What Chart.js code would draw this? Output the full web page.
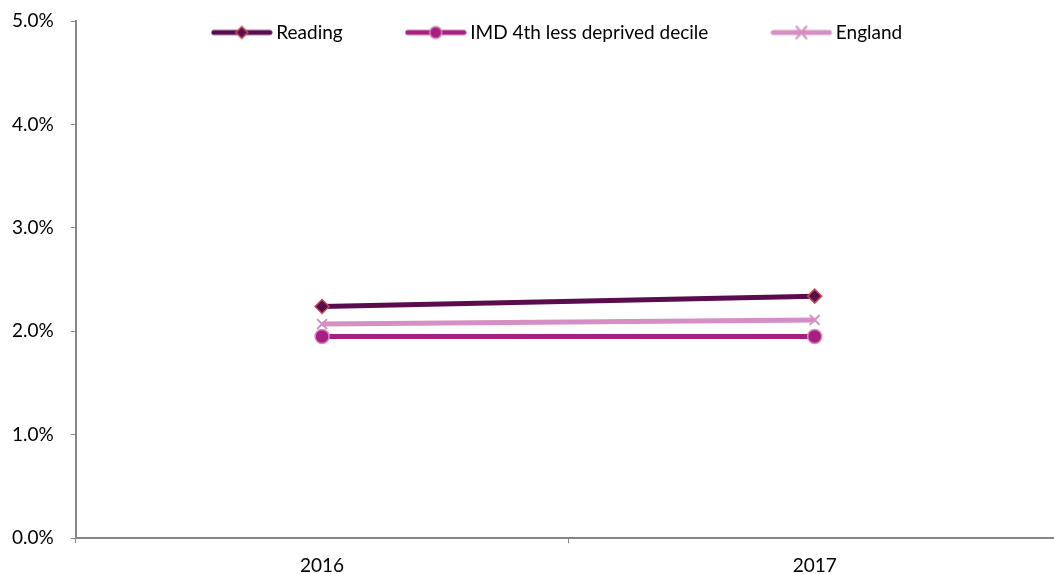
<!DOCTYPE html>
<html>
<head>
<meta charset="utf-8">
<script src="https://cdn.jsdelivr.net/npm/chart.js@4/dist/chart.umd.min.js"></script>
<style>
  html, body { margin: 0; padding: 0; background: #fff; overflow: hidden; }
  #wrap { position: relative; width: 1070px; height: 574px; }
</style>
</head>
<body>
<div id="wrap"><canvas id="chart"></canvas></div>
<script>
// ── DATA ──────────────────────────────────────────────────────────────────────
const years   = ['2016', '2017'];
const reading = [2.24, 2.34];
const imd     = [1.95, 1.95];
const england = [2.07, 2.11];
const yTicks  = [0, 1, 2, 3, 4, 5];

const FONT = "Lato, sans-serif";
const AXIS = '#868686';
const LEGEND_GAP = 68;

// ── LEGEND ICONS (line with marker in the middle) ─────────────────────────────
function legendIcon(color, draw) {
  const c = document.createElement('canvas');
  c.width = 62; c.height = 16;
  const g = c.getContext('2d');
  g.strokeStyle = color;
  g.lineWidth = 5;
  g.lineCap = 'round';
  g.beginPath(); g.moveTo(3, 8); g.lineTo(59, 8); g.stroke();
  draw(g, 31, 8);
  return c;
}

const icons = {
  reading: legendIcon('#5a0c4e', (g, x, y) => {
    g.fillStyle = '#5a0c4e'; g.strokeStyle = '#c0504d'; g.lineWidth = 1.5;
    g.beginPath(); g.moveTo(x, y - 6); g.lineTo(x + 6, y); g.lineTo(x, y + 6); g.lineTo(x - 6, y); g.closePath();
    g.fill(); g.stroke();
  }),
  imd: legendIcon('#a8207f', (g, x, y) => {
    g.fillStyle = '#a8207f'; g.strokeStyle = '#d58bc1'; g.lineWidth = 1.5;
    g.beginPath(); g.arc(x, y, 6, 0, Math.PI * 2); g.fill(); g.stroke();
  }),
  england: legendIcon('#d68fc2', (g, x, y) => {
    g.strokeStyle = '#d68fc2'; g.lineWidth = 2;
    g.beginPath(); g.moveTo(x - 5, y - 6); g.lineTo(x + 5, y + 6); g.moveTo(x + 5, y - 6); g.lineTo(x - 5, y + 6); g.stroke();
  })
};

// legend overlays the plot (takes no layout height), like the Excel original
const overlayLegend = {
  id: 'overlayLegend',
  afterInit(chart) {
    const lg = chart.legend;
    const fit = lg.fit;
    lg.fit = function () { fit.call(this); this._realHeight = this.height; this.height = 0; };
  },
  afterLayout(chart) {
    const lg = chart.legend;
    lg.top = 34 - LEGEND_GAP - 11;
    lg.bottom = lg.top + lg._realHeight;
    lg.height = lg._realHeight;
    lg.left += 27;
    lg.right += 27;
  }
};

// ── CHART ─────────────────────────────────────────────────────────────────────
const ctx = document.getElementById('chart').getContext('2d');
new Chart(ctx, {
  type: 'line',
  plugins: [overlayLegend],
  data: {
    labels: years,
    datasets: [
      {
        label: 'Reading',
        data: reading,
        borderColor: '#5a0c4e',
        borderWidth: 5,
        pointStyle: 'rectRot',
        pointRadius: 7,
        pointBackgroundColor: '#5a0c4e',
        pointBorderColor: '#c0504d',
        pointBorderWidth: 1.5,
        legendIcon: icons.reading
      },
      {
        label: 'IMD 4th less deprived decile',
        data: imd,
        borderColor: '#a8207f',
        borderWidth: 5,
        pointStyle: 'circle',
        pointRadius: 7,
        pointBackgroundColor: '#a8207f',
        pointBorderColor: '#d58bc1',
        pointBorderWidth: 1.5,
        legendIcon: icons.imd
      },
      {
        label: 'England',
        data: england,
        borderColor: '#d68fc2',
        borderWidth: 5,
        pointStyle: 'cross',
        rotation: 45,
        pointRadius: 7,
        pointBorderColor: '#d68fc2',
        pointBorderWidth: 2,
        legendIcon: icons.england
      }
    ]
  },
  options: {
    responsive: true,
    maintainAspectRatio: false,
    animation: false,
    layout: { padding: { top: 21, left: -5, right: 0, bottom: -14 } },
    plugins: {
      tooltip: { enabled: false },
      legend: {
        position: 'top',
        align: 'center',
        labels: {
          usePointStyle: true,
          pointStyleWidth: 50,
          padding: LEGEND_GAP,
          color: '#000',
          font: { family: FONT, size: 19 },
          generateLabels: chart => chart.data.datasets.map((ds, i) => ({
            text: ds.label,
            pointStyle: ds.legendIcon,
            datasetIndex: i,
            fontColor: '#000',
            lineWidth: 0
          }))
        }
      }
    },
    scales: {
      x: {
        offset: true,
        grid: { display: true, drawOnChartArea: false, offset: true, tickLength: 5, color: AXIS },
        border: { color: AXIS, width: 2 },
        ticks: { color: '#000', font: { family: FONT, size: 19 }, padding: 11 }
      },
      y: {
        min: 0,
        max: 5,
        afterBuildTicks: axis => { axis.ticks = yTicks.map(v => ({ value: v })); },
        afterFit: axis => { axis.paddingTop = 0; },
        grid: { display: true, drawOnChartArea: false, tickLength: 5, color: AXIS },
        border: { color: AXIS, width: 2 },
        ticks: {
          color: '#000',
          font: { family: FONT, size: 19 },
          padding: 17,
          callback: v => v.toFixed(1) + '%'
        }
      }
    }
  }
});
</script>
</body>
</html>
